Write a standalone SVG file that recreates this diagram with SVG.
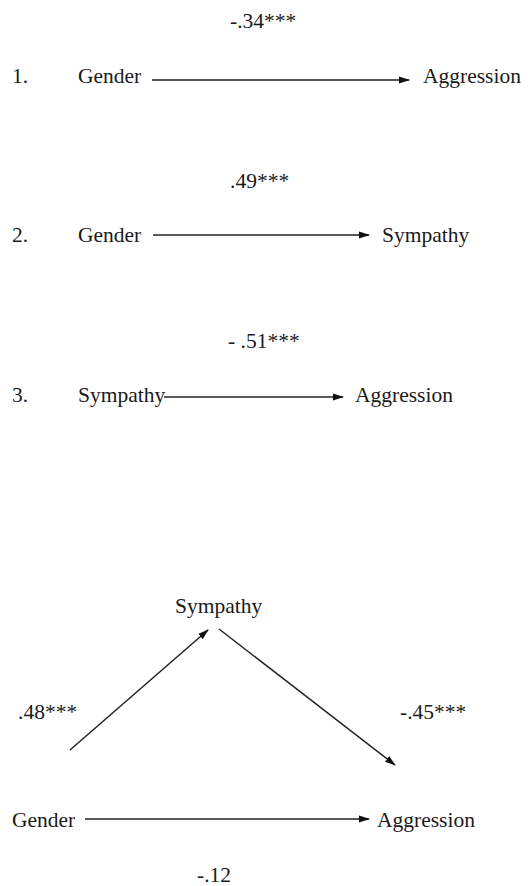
<svg xmlns="http://www.w3.org/2000/svg" width="530" height="886" viewBox="0 0 530 886">
<defs>
<marker id="ah" markerWidth="11" markerHeight="9" refX="10" refY="4.5" orient="auto" markerUnits="userSpaceOnUse">
<path d="M0,1 L11,4.5 L0,8 Z" fill="#111"/>
</marker>
<style>
text{font-family:"Liberation Serif","Times New Roman",serif;font-size:21.5px;fill:#1a1a1a}
.c line{stroke:#222;stroke-width:1.5;marker-end:url(#ah)}
</style>
</defs>
<rect width="530" height="886" fill="#fff"/>
<g id="labels">
<text x="230" y="28">-.34***</text>
<text x="12" y="83">1.</text>
<text x="230" y="188">.49***</text>
<text x="12" y="242">2.</text>
<text x="228" y="348">- .51***</text>
<text x="12" y="402">3.</text>
<text x="18" y="719">.48***</text>
<text x="400" y="719">-.45***</text>
<text x="197" y="882">-.12</text>
</g>
<g id="n1-gender"><text x="78" y="83">Gender</text></g>
<g id="n1-aggression"><text x="423" y="83">Aggression</text></g>
<g id="n2-gender"><text x="78" y="242">Gender</text></g>
<g id="n2-sympathy"><text x="382" y="242">Sympathy</text></g>
<g id="n3-sympathy"><text x="78" y="402">Sympathy</text></g>
<g id="n3-aggression"><text x="355" y="402">Aggression</text></g>
<g id="m-sympathy"><text x="175" y="613">Sympathy</text></g>
<g id="m-gender"><text x="12" y="827">Gender</text></g>
<g id="m-aggression"><text x="377" y="827">Aggression</text></g>
<g class="c" id="connectors">
<line x1="152" y1="80" x2="409" y2="80"/>
<line x1="153" y1="235" x2="369" y2="235"/>
<line x1="164" y1="397" x2="343" y2="397"/>
<line x1="70" y1="750" x2="208" y2="630"/>
<line x1="219" y1="629" x2="395" y2="765"/>
<line x1="85" y1="819" x2="369" y2="819"/>
</g>
</svg>
